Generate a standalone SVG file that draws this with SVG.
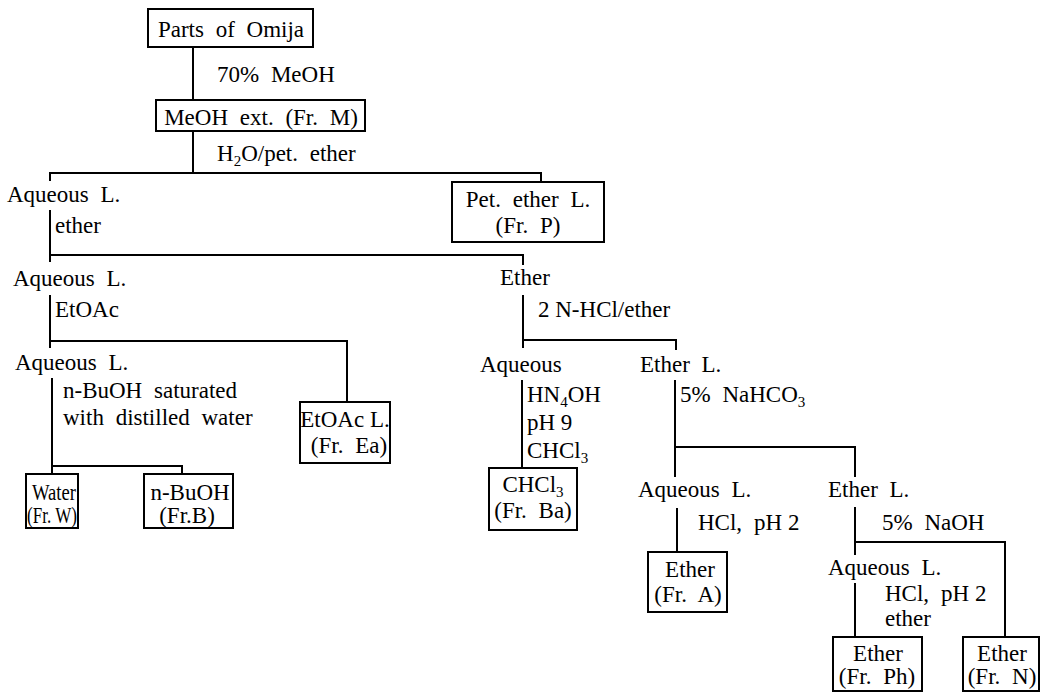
<svg xmlns="http://www.w3.org/2000/svg" width="1041" height="692" viewBox="0 0 1041 692">
<style>
.t{font-family:"Liberation Serif","Times New Roman",serif;font-size:23px;fill:#000;word-spacing:6px}
.m{text-anchor:middle}
.b{fill:#fff;stroke:#000;stroke-width:2}
.c{fill:none;stroke:#000;stroke-width:2}
.s{font-size:15px}
</style>
<rect width="1041" height="692" fill="#fff"/>
<g id="connectors" class="c">
<path d="M193 47V100"/>
<path d="M193 131V173"/>
<path d="M50 181V173H541V182"/>
<path d="M50 210V262M50 255H523V265"/>
<path d="M50 295V348M50 341H347V402"/>
<path d="M523 295V348M523 340H676V350"/>
<path d="M52 378V474M52 466H182V474"/>
<path d="M522 380V468"/>
<path d="M675 380V477M675 447H855V477"/>
<path d="M677 508V552"/>
<path d="M855 507V555M855 542H1005V637"/>
<path d="M855 583V637"/>
</g>
<g id="edge-labels" class="t">
<text x="217" y="82">70% MeOH</text>
<text x="217" y="161">H<tspan class="s" dy="5">2</tspan><tspan dy="-5">O/pet. ether</tspan></text>
<text x="55" y="233">ether</text>
<text x="55" y="317">EtOAc</text>
<text x="538" y="317" style="word-spacing:0">2 N-HCl/ether</text>
<text x="63" y="398">n-BuOH saturated</text>
<text x="63" y="425">with distilled water</text>
<text x="527" y="402">HN<tspan class="s" dy="5">4</tspan><tspan dy="-5">OH</tspan></text>
<text x="527" y="430" style="word-spacing:0">pH 9</text>
<text x="527" y="458">CHCl<tspan class="s" dy="5">3</tspan></text>
<text x="680" y="402">5% NaHCO<tspan class="s" dy="5">3</tspan></text>
<text x="698" y="530" style="word-spacing:0">HCl,<tspan dx="12">pH 2</tspan></text>
<text x="882" y="530">5% NaOH</text>
<text x="885" y="601" style="word-spacing:0">HCl,<tspan dx="12">pH 2</tspan></text>
<text x="885" y="626">ether</text>
</g>
<g id="n-omija"><rect class="b" x="148" y="9" width="165" height="38"/><text class="t m" x="231" y="37">Parts of Omija</text></g>
<g id="n-meoh"><rect class="b" x="156" y="100" width="209" height="31"/><text class="t m" x="261" y="125">MeOH ext. (Fr. M)</text></g>
<g id="n-aq1"><text class="t" x="7" y="202">Aqueous L.</text></g>
<g id="n-pet"><rect class="b" x="452" y="182" width="152" height="60"/><text class="t m" x="528" y="207">Pet. ether L.</text><text class="t m" x="528" y="233">(Fr. P)</text></g>
<g id="n-aq2"><text class="t" x="13" y="286">Aqueous L.</text></g>
<g id="n-ether"><text class="t" x="500" y="285">Ether</text></g>
<g id="n-aq3"><text class="t" x="15" y="370">Aqueous L.</text></g>
<g id="n-etoac"><rect class="b" x="300" y="402" width="90" height="61"/><text class="t m" x="345" y="427" style="word-spacing:0">EtOAc L.</text><text class="t m" x="349" y="453">(Fr. Ea)</text></g>
<g id="n-water"><rect class="b" x="26" y="474" width="52" height="54"/><text class="t" x="32" y="500" textLength="44" lengthAdjust="spacingAndGlyphs">Water</text><text class="t" x="27" y="523" textLength="50" lengthAdjust="spacingAndGlyphs" style="word-spacing:0">(Fr. W)</text></g>
<g id="n-buoh"><rect class="b" x="144" y="474" width="89" height="54"/><text class="t m" x="190" y="500">n-BuOH</text><text class="t m" x="187" y="523">(Fr.B)</text></g>
<g id="n-aqueous"><text class="t" x="480" y="372">Aqueous</text></g>
<g id="n-chcl3"><rect class="b" x="489" y="468" width="88" height="62"/><text class="t m" x="533" y="492">CHCl<tspan class="s" dy="5">3</tspan></text><text class="t m" x="533" y="518">(Fr. Ba)</text></g>
<g id="n-etherL1"><text class="t" x="640" y="372">Ether L.</text></g>
<g id="n-aq4"><text class="t" x="638" y="497">Aqueous L.</text></g>
<g id="n-etherL2"><text class="t" x="828" y="497">Ether L.</text></g>
<g id="n-frA"><rect class="b" x="648" y="552" width="79" height="60"/><text class="t m" x="690" y="577">Ether</text><text class="t m" x="688" y="602">(Fr. A)</text></g>
<g id="n-aq5"><text class="t" x="828" y="575">Aqueous L.</text></g>
<g id="n-frPh"><rect class="b" x="833" y="637" width="89" height="54"/><text class="t m" x="878" y="661">Ether</text><text class="t m" x="877" y="684">(Fr. Ph)</text></g>
<g id="n-frN"><rect class="b" x="963" y="637" width="76" height="54"/><text class="t m" x="1002" y="661">Ether</text><text class="t m" x="1002" y="684">(Fr. N)</text></g>
</svg>
